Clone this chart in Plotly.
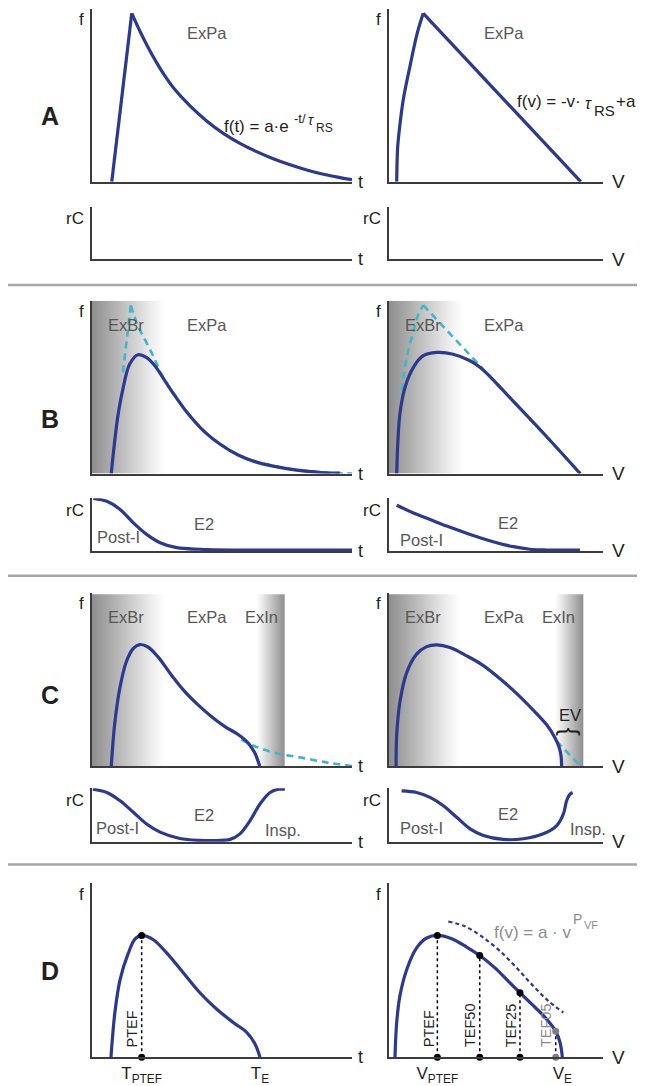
import plotly.graph_objects as go

# page geometry: the page body adds an 8px margin, so the figure is drawn 8px in
W, H = 645, 1086
OX, OY = 8, 8
FW, FH = W - OX, H - OY
FONT = 'Liberation Sans, Arial, Helvetica, sans-serif'
NAVY = '#2b3990'
CYAN = '#41b6c8'
INK = '#231f20'
REGION = '#575757'
AXIS = '#3c3c3c'
GRAYTXT = '#8c8c8c'

# ---------------- data (relative units 0-100 inside each panel) ----------------
# Row A
A_t_rise_x = [7.6, 15.3]
A_t_rise_y = [0, 97.5]
A_t_decay_x = [15.3, 18.5, 21.7, 24.9, 28.1, 31.3, 37.7, 44.1, 50.5, 56.9, 63.3, 69.7, 76.2, 82.6, 89.0, 95.4, 100]
A_t_decay_y = [97.5, 87.0, 77.4, 68.8, 61.1, 54.4, 43.9, 35.2, 28.0, 22.2, 17.4, 13.3, 9.8, 6.8, 4.3, 2.4, 1.2]
A_v_rise_x = [3.6, 4.0, 4.7, 6.7, 9.8, 13.2, 16.0]
A_v_rise_y = [0, 19.0, 28.6, 47.7, 66.8, 86.0, 97.5]
A_v_fall_x = [16.0, 89.6]
A_v_fall_y = [97.5, 0]

# Row B
B_t_x = [7.4, 8.7, 10.0, 11.9, 14.5, 17.7, 20.9, 24.1, 28.0, 31.8, 36.9, 43.3, 49.7, 56.2, 62.6, 75.4, 88.2, 95.3]
B_t_y = [0, 18.4, 33.7, 49.0, 63.4, 68.8, 67.2, 62.5, 53.8, 45.2, 34.7, 24.1, 16.5, 10.7, 6.9, 2.7, 0.6, 0.2]
B_t_ref_rise_x = [11.9, 14.9]
B_t_ref_rise_y = [58.6, 97.3]
B_t_ref_decay_x = [14.9, 17.7, 20.9, 24.1, 26.0, 28.0, 31.8, 36.9, 43.3, 49.7, 56.2, 62.6, 75.4, 88.2, 100]
B_t_ref_decay_y = [97.3, 85.5, 75.9, 66.3, 59.6, 54.0, 45.4, 34.9, 24.3, 16.7, 10.9, 7.1, 2.9, 0.8, 0]
B_v_x = [3.6, 4.1, 5.1, 7.5, 11.4, 16.0, 22.3, 30.0, 37.9, 42.5, 47.2, 51.9, 56.5, 73.7, 89.3]
B_v_y = [0, 17.4, 34.7, 50.0, 61.5, 68.2, 70.1, 69.1, 65.3, 61.5, 56.1, 50.0, 43.9, 21.3, 0]
B_v_ref_rise_x = [5.9, 8.3, 11.4, 13.7, 16.0]
B_v_ref_rise_y = [48.0, 67.2, 82.6, 92.1, 97.5]
B_v_ref_fall_x = [16.0, 89.6]
B_v_ref_fall_y = [97.5, 0]
Br_t_x = [0.5, 5.7, 10.8, 15.9, 21.0, 26.2, 32.6, 41.5, 54.3, 100]
Br_t_y = [100, 94.3, 78.7, 53.4, 31.5, 15.7, 6.2, 3.2, 1.8, 1.5]
Br_v_x = [3.6, 11.4, 19.2, 27.0, 34.7, 42.5, 50.3, 58.1, 65.9, 73.7, 89.3]
Br_v_y = [86.8, 72.3, 59.8, 47.2, 35.8, 25.1, 15.7, 8.1, 3.2, 1.8, 1.5]

# Row C
C_t_x = [7.4, 8.7, 10.7, 13.2, 15.8, 18.3, 21.5, 25.4, 30.5, 35.7, 40.8, 45.9, 51.0, 56.2, 60.0, 62.6, 64.5]
C_t_y = [0, 24.0, 45.0, 60.2, 67.8, 70.1, 68.7, 63.0, 52.6, 43.0, 35.4, 28.7, 23.0, 18.3, 13.5, 7.8, 0]
C_t_ref_x = [57.4, 62.6, 70.3, 80.5, 90.8, 100]
C_t_ref_y = [15.4, 11.6, 7.8, 5.0, 2.1, 0.2]
C_v_x = [3.3, 3.6, 5.1, 8.3, 12.9, 17.6, 22.3, 28.5, 36.3, 44.1, 51.9, 59.7, 67.4, 73.7, 77.6, 79.6, 80.4, 80.7]
C_v_y = [0, 18.2, 37.1, 54.1, 64.6, 68.9, 69.9, 68.4, 63.6, 58.0, 50.4, 41.9, 32.4, 23.9, 16.3, 10.6, 5.9, 0]
C_v_ref_x = [78.4, 89.6]
C_v_ref_y = [14.4, 0]
Cr_t_x = [0.3, 5.7, 10.8, 15.9, 21.0, 26.2, 33.8, 41.5, 48.0, 53.1, 56.9, 60.8, 64.6, 68.5, 71.7, 74.2]
Cr_t_y = [98, 92, 76.5, 55, 33.3, 18, 6, 2.5, 2.4, 4.5, 14.8, 39.4, 70.4, 92, 98, 98]
Cr_v_x = [5.9, 12.9, 19.2, 25.4, 31.6, 37.9, 44.1, 53.4, 62.8, 72.1, 78.4, 81.5, 83.0, 84.6, 85.8]
Cr_v_y = [95, 92, 82.8, 67.2, 45.7, 24.1, 11.7, 4.3, 5.6, 14.8, 30.2, 51.9, 76.5, 88.9, 92]

# Row D
D_t_x = [7.3, 8.8, 10.8, 14.0, 16.5, 19.1, 23.6, 28.7, 35.1, 41.5, 48.0, 54.3, 59.5, 62.7, 64.6]
D_t_y = [0, 25.7, 44.7, 60.0, 68.0, 70.1, 67.6, 60.0, 48.6, 37.1, 27.6, 20.0, 14.3, 7.6, 0]
D_t_mark_x = [19.1]
D_t_mark_y = [70.1]
D_t_ticks = [19.1, 64.6]
D_t_ticktext = ['T<sub>PTEF</sub>', 'T<sub>E</sub>']
D_v_x = [2.8, 3.6, 5.1, 8.3, 12.9, 17.6, 22.6, 29.3, 36.3, 42.4, 49.5, 55.7, 61.2, 66.7, 72.9, 77.9, 79.9, 81.0]
D_v_y = [0, 20.0, 35.3, 50.5, 62.9, 68.6, 70.1, 68.2, 63.4, 58.5, 51.4, 43.8, 37.1, 30.5, 22.9, 14.9, 8.6, 0]
D_v_mark_x = [22.6, 42.4, 61.2, 77.9]
D_v_mark_y = [70.1, 58.5, 37.1, 14.9]
D_v_mark_lbl = ['PTEF', 'TEF50', 'TEF25', 'TEF05']
D_v_fit_x = [27.7, 35.5, 43.3, 51.1, 58.9, 66.7, 74.4, 81.5]
D_v_fit_y = [78.1, 75.3, 69.5, 61.9, 52.4, 41.9, 32.4, 25.7]
D_v_ticks = [22.6, 81.0]
D_v_ticktext = ['V<sub>PTEF</sub>', 'V<sub>E</sub>']

# ---------------- layout geometry (window pixels) ----------------
LEFT = (92, 352)
RIGHT = (389, 603)
panels = [
    ('At', LEFT, (9, 183)), ('Av', RIGHT, (9, 183)),
    ('Art', LEFT, (208, 261)), ('Arv', RIGHT, (208, 261)),
    ('Bt', LEFT, (303, 477)), ('Bv', RIGHT, (303, 477)),
    ('Brt', LEFT, (502, 555)), ('Brv', RIGHT, (502, 555)),
    ('Ct', LEFT, (597, 772)), ('Cv', RIGHT, (597, 772)),
    ('Crt', LEFT, (794, 848)), ('Crv', RIGHT, (794, 848)),
    ('Dt', LEFT, (890, 1065)), ('Dv', RIGHT, (890, 1065)),
]
idx = {p[0]: i + 1 for i, p in enumerate(panels)}


def PX(x):
    return (x - OX) / FW


def PY(y):
    return 1 - (y - OY) / FH


def ax(name):
    i = idx[name]
    return ('x' if i == 1 else f'x{i}'), ('y' if i == 1 else f'y{i}')


fig = go.Figure()

# keep every panel (also the empty rC ones) on the page
for name, _, _ in panels:
    xa, ya = ax(name)
    fig.add_trace(go.Scatter(x=[50], y=[50], mode='markers', xaxis=xa, yaxis=ya, hoverinfo='skip',
                             marker=dict(size=1, opacity=0)))


def line(name, x, y, color=NAVY, width=3.2, dash=None, shape='spline'):
    xa, ya = ax(name)
    fig.add_trace(go.Scatter(x=x, y=y, mode='lines', xaxis=xa, yaxis=ya, hoverinfo='skip',
                             line=dict(color=color, width=width, dash=dash, shape=shape)))


def shade(name, x0, x1, ytop, dark_left=True):
    xa, ya = ax(name)
    cs = [[0, '#8e8e8e'], [0.45, '#c2c2c2'], [0.8, '#ececec'], [1, '#ffffff']]
    if not dark_left:
        cs = [[1 - s, c] for s, c in reversed(cs)]
    fig.add_trace(go.Scatter(x=[x0, x1, x1, x0, x0], y=[0, 0, ytop, ytop, 0], fill='toself', mode='none',
                             xaxis=xa, yaxis=ya, hoverinfo='skip',
                             fillgradient=dict(type='horizontal', colorscale=cs)))


CYDASH = '7px,5px'

# Row A
line('At', A_t_rise_x, A_t_rise_y, shape='linear')
line('At', A_t_decay_x, A_t_decay_y)
line('Av', A_v_rise_x, A_v_rise_y)
line('Av', A_v_fall_x, A_v_fall_y, shape='linear')

# Row B
shade('Bt', 0, 28.1, 100)
shade('Bv', 0, 34.6, 100)
line('Bt', B_t_ref_rise_x, B_t_ref_rise_y, color=CYAN, width=2.6, dash=CYDASH, shape='linear')
line('Bt', B_t_ref_decay_x, B_t_ref_decay_y, color=CYAN, width=2.6, dash=CYDASH)
line('Bt', B_t_x, B_t_y)
line('Bv', B_v_ref_rise_x, B_v_ref_rise_y, color=CYAN, width=2.6, dash=CYDASH)
line('Bv', B_v_ref_fall_x, B_v_ref_fall_y, color=CYAN, width=2.6, dash=CYDASH, shape='linear')
line('Bv', B_v_x, B_v_y)
line('Brt', Br_t_x, Br_t_y)
line('Brv', Br_v_x, Br_v_y)

# Row C
shade('Ct', 0, 28.1, 99)
shade('Ct', 63.2, 74.1, 99, dark_left=False)
shade('Cv', 0, 33.2, 99)
shade('Cv', 77.6, 90.8, 99, dark_left=False)
line('Ct', C_t_ref_x, C_t_ref_y, color=CYAN, width=2.6, dash=CYDASH)
line('Ct', C_t_x, C_t_y)
line('Cv', C_v_ref_x, C_v_ref_y, color=CYAN, width=2.6, dash=CYDASH, shape='linear')
line('Cv', C_v_x, C_v_y)
line('Crt', Cr_t_x, Cr_t_y)
line('Crv', Cr_v_x, Cr_v_y)

# Row D
line('Dt', D_t_x, D_t_y)
line('Dv', D_v_fit_x, D_v_fit_y, width=2.2, dash='4px,3px')
line('Dv', D_v_x, D_v_y)


def markers(name, xs, ys, colors):
    xa, ya = ax(name)
    for x, y, c in zip(xs, ys, colors):
        fig.add_trace(go.Scatter(x=[x, x], y=[0, y], mode='lines', xaxis=xa, yaxis=ya, hoverinfo='skip',
                                 line=dict(color='black', width=1.5, dash='dot')))
        fig.add_trace(go.Scatter(x=[x, x], y=[0, y], mode='markers', xaxis=xa, yaxis=ya, hoverinfo='skip',
                                 cliponaxis=False, marker=dict(size=7, color=c)))


markers('Dt', D_t_mark_x, D_t_mark_y, ['black'])
markers('Dv', D_v_mark_x, D_v_mark_y, ['black', 'black', 'black', '#7f7f7f'])

# ---------------- axes ----------------
layout = dict(width=FW, height=FH, margin=dict(l=0, r=0, t=0, b=0), showlegend=False,
              paper_bgcolor='white', plot_bgcolor='white', font=dict(family=FONT, color=INK))
for i, (name, col, row) in enumerate(panels, start=1):
    sfx = '' if i == 1 else str(i)
    xa = dict(domain=[PX(col[0]), PX(col[1])], range=[0, 100], showline=True, linecolor=AXIS, linewidth=1.5,
              showgrid=False, zeroline=False, showticklabels=False, ticks='', anchor='y' + sfx, fixedrange=True)
    ya = dict(domain=[PY(row[1]), PY(row[0])], range=[0, 100], showline=True, linecolor=AXIS,
              linewidth=1.5, showgrid=False, zeroline=False, showticklabels=False, ticks='', anchor='x' + sfx,
              fixedrange=True)
    if name == 'Dt':
        xa.update(showticklabels=True, tickvals=D_t_ticks, ticktext=D_t_ticktext,
                  tickfont=dict(size=17, color=INK, family=FONT))
    if name == 'Dv':
        xa.update(showticklabels=True, tickvals=D_v_ticks, ticktext=D_v_ticktext,
                  tickfont=dict(size=17, color=INK, family=FONT))
    layout['xaxis' + sfx] = xa
    layout['yaxis' + sfx] = ya
fig.update_layout(**layout)

# ---------------- text ----------------
ann = []


def t(x, y, s, size=16, color=INK, xa='center', ya='middle', **kw):
    ann.append(dict(x=PX(x), y=PY(y), xref='paper', yref='paper', text=s, showarrow=False,
                    xanchor=xa, yanchor=ya, font=dict(size=size, color=color, family=FONT), **kw))


# panel letters
for letter, yy in [('A', 117), ('B', 422), ('C', 700), ('D', 978)]:
    t(50, yy, '<b>%s</b>' % letter, size=25)

# axis labels
for name, col, row in panels:
    top, bot = row
    small = name.startswith(('Ar', 'Br', 'Cr'))
    t(col[0] - 6, top + 12 if small else top + 11, 'rC' if small else 'f', size=17, xa='right')
    if col == LEFT:
        t(356, bot, 't', size=18, xa='left')
    else:
        t(610, bot, 'V', size=19, xa='left')

# region labels
for x, y, s in [(207, 33, 'ExPa'), (504, 33, 'ExPa'),
                (126, 327, 'ExBr'), (207, 327, 'ExPa'), (423, 327, 'ExBr'), (504, 327, 'ExPa'),
                (126, 622, 'ExBr'), (207, 622, 'ExPa'), (261, 622, 'ExIn'),
                (423, 622, 'ExBr'), (504, 622, 'ExPa'), (558, 622, 'ExIn'),
                (118, 541, 'Post-I'), (204, 528, 'E2'), (421, 544, 'Post-I'), (508, 527, 'E2'),
                (117, 834, 'Post-I'), (204, 821, 'E2'), (283, 836, 'Insp.'),
                (421, 834, 'Post-I'), (508, 820, 'E2'), (588, 835, 'Insp.')]:
    t(x, y, s, size=16.5, color=REGION)

# formula A left
t(222, 127, 'f(t) = a·e', size=17, xa='left')
t(292, 119, '-t/', size=13, xa='left')
t(306, 121, '<i>τ</i>', size=14, xa='left')
t(314, 129, 'RS', size=12, xa='left')
# formula A right
t(515, 102, 'f(v) = -v·', size=17, xa='left')
t(583, 104, '<i>τ</i>', size=16, xa='left')
t(592, 111, 'RS', size=15, xa='left')
t(614, 102, '+a', size=17, xa='left')
# formula D right
t(492, 939, 'f(v) = a · v', size=17, color=GRAYTXT, xa='left')
t(571, 926, 'P', size=14, color=GRAYTXT, xa='left')
t(582, 932, 'VF', size=11, color=GRAYTXT, xa='left')
# EV brace
t(570, 720, 'EV', size=16.5)
t(570, 737, '{', size=25, textangle=90)

# rotated labels in D
xa, ya = ax('Dt')
ann.append(dict(x=D_t_mark_x[0], y=4.5, xref=xa, yref=ya, text='PTEF', textangle=-90, showarrow=False,
                xanchor='center', yanchor='bottom', xshift=-10, font=dict(size=14.5, color=INK, family=FONT)))
xa, ya = ax('Dv')
for x, s in zip(D_v_mark_x, D_v_mark_lbl):
    ann.append(dict(x=x, y=4.5, xref=xa, yref=ya, text=s, textangle=-90, showarrow=False,
                    xanchor='center', yanchor='bottom', xshift=-9,
                    font=dict(size=14.5, color=GRAYTXT if s == 'TEF05' else INK, family=FONT)))

fig.update_layout(annotations=ann)

# separators
fig.update_layout(shapes=[dict(type='line', xref='paper', yref='paper', x0=PX(8), x1=PX(643),
                               y0=PY(yy), y1=PY(yy), line=dict(color='#a6a6a6', width=2.5))
                          for yy in (287, 580, 871)])

fig.write_html('out.html')
